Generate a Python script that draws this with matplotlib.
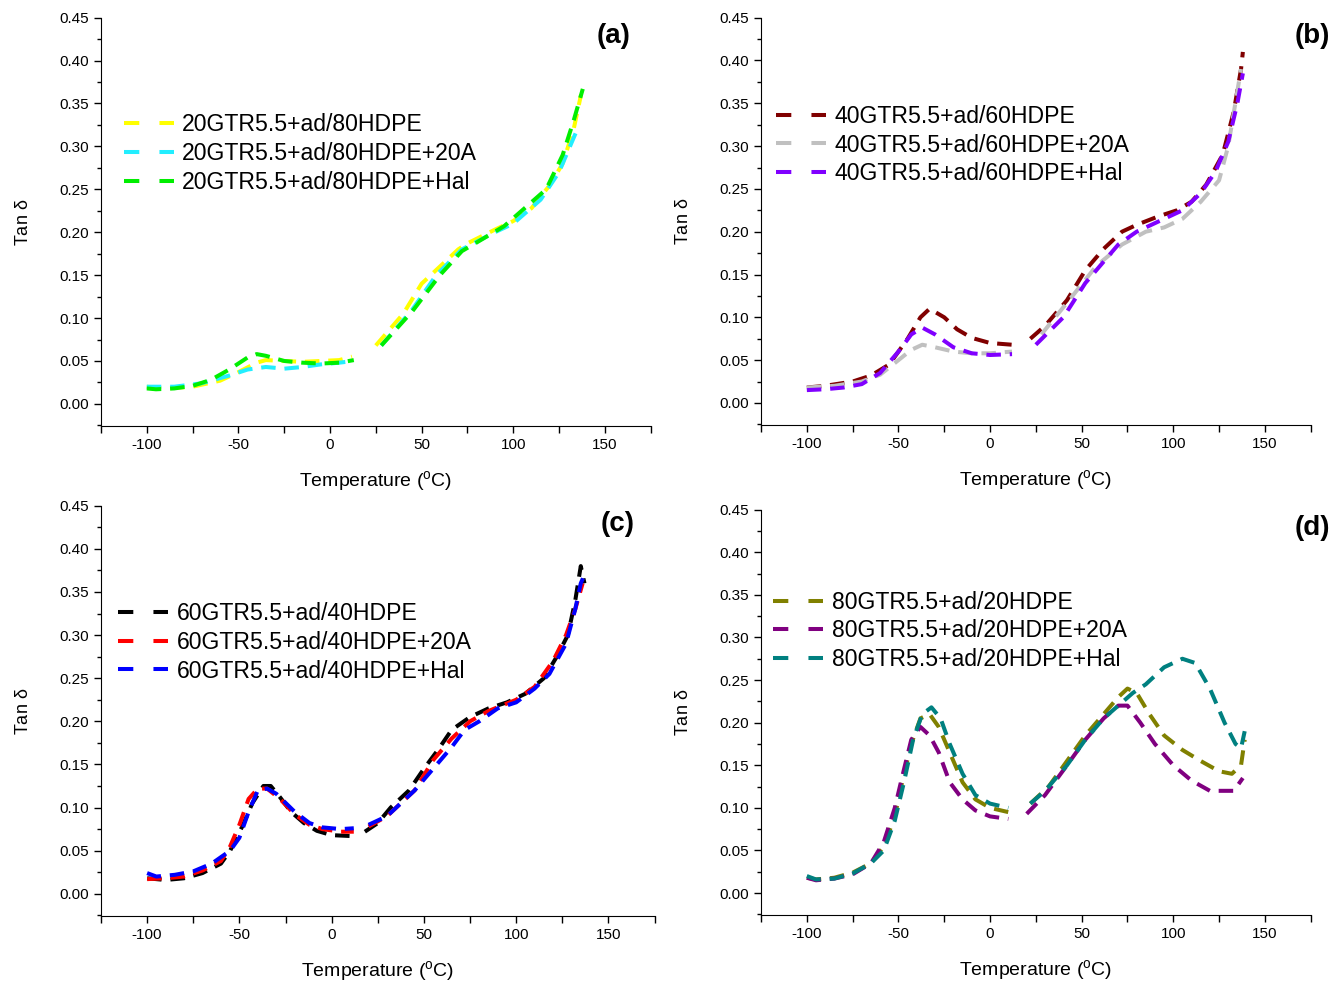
import numpy as np
import matplotlib.pyplot as plt
from matplotlib.ticker import MultipleLocator
from matplotlib.lines import Line2D

plt.rcParams['font.family'] = ['Liberation Sans', 'DejaVu Sans']
plt.rcParams['mathtext.fontset'] = 'custom'
plt.rcParams['mathtext.rm'] = 'Liberation Sans'
plt.rcParams['mathtext.it'] = 'Liberation Sans:italic'
plt.rcParams['axes.unicode_minus'] = False

nan = np.nan

# ---- panel (a) ----
a_T1 = [-100, -90, -75, -60, -50, -40, -35, -25, -15, -5, 5, 12, 16, 25, 40, 50, 60, 70, 75, 90, 100, 110, 120, 127, 133, 137]
a_v1 = [0.020, 0.018, 0.020, 0.027, 0.037, 0.048, 0.051, 0.050, 0.049, 0.050, 0.051, 0.055, nan, 0.068, 0.105, 0.140, 0.160, 0.180, 0.187, 0.203, 0.213, 0.228, 0.255, 0.280, 0.320, 0.360]
a_T2 = [-100, -85, -70, -55, -45, -35, -25, -15, -5, 5, 13, 18, 28, 45, 58, 72, 90, 100, 115, 125, 135]
a_v2 = [0.020, 0.020, 0.024, 0.033, 0.040, 0.043, 0.041, 0.043, 0.046, 0.048, 0.050, nan, 0.068, 0.110, 0.150, 0.180, 0.200, 0.210, 0.238, 0.270, 0.320]
a_T3 = [-100, -95, -85, -75, -65, -55, -45, -40, -35, -25, -15, -5, 5, 13, 18, 28, 45, 60, 72, 80, 95, 110, 118, 127, 133, 138]
a_v3 = [0.018, 0.017, 0.018, 0.021, 0.028, 0.040, 0.054, 0.058, 0.056, 0.050, 0.048, 0.047, 0.048, 0.051, nan, 0.068, 0.108, 0.150, 0.178, 0.188, 0.207, 0.235, 0.250, 0.290, 0.330, 0.367]

# ---- panel (b) ----
b_T1 = [-100, -90, -75, -65, -55, -45, -38, -33, -25, -18, -10, 0, 12, 17, 22, 30, 42, 52, 62, 72, 80, 92, 102, 110, 118, 127, 133, 137, 138]
b_v1 = [0.018, 0.020, 0.025, 0.032, 0.045, 0.075, 0.100, 0.110, 0.100, 0.086, 0.076, 0.070, 0.068, nan, 0.075, 0.090, 0.120, 0.155, 0.180, 0.200, 0.208, 0.218, 0.225, 0.235, 0.255, 0.290, 0.340, 0.390, 0.410]
b_T2 = [-100, -85, -70, -60, -50, -43, -37, -30, -20, -10, 0, 12, 18, 28, 45, 58, 72, 85, 95, 105, 115, 125, 130, 137]
b_v2 = [0.018, 0.020, 0.025, 0.033, 0.050, 0.062, 0.068, 0.065, 0.060, 0.058, 0.058, 0.060, nan, 0.080, 0.125, 0.160, 0.185, 0.200, 0.205, 0.215, 0.235, 0.260, 0.300, 0.390]
b_T3 = [-100, -90, -80, -70, -60, -50, -43, -37, -30, -20, -10, 0, 12, 18, 25, 40, 52, 62, 70, 80, 95, 105, 115, 123, 130, 135, 138]
b_v3 = [0.015, 0.016, 0.018, 0.022, 0.035, 0.060, 0.080, 0.088, 0.080, 0.065, 0.058, 0.056, 0.057, nan, 0.068, 0.100, 0.140, 0.165, 0.185, 0.200, 0.215, 0.225, 0.245, 0.270, 0.305, 0.350, 0.385]

# ---- panel (c) ----
c_T1 = [-100, -90, -80, -70, -60, -55, -48, -43, -37, -33, -28, -22, -15, -8, 0, 10, 14, 18, 25, 32, 42, 50, 58, 65, 75, 85, 95, 105, 115, 122, 128, 132, 135, 137]
c_v1 = [0.018, 0.016, 0.018, 0.024, 0.035, 0.050, 0.080, 0.105, 0.125, 0.125, 0.112, 0.095, 0.082, 0.073, 0.068, 0.067, nan, 0.072, 0.082, 0.100, 0.120, 0.145, 0.168, 0.190, 0.205, 0.215, 0.222, 0.232, 0.250, 0.275, 0.300, 0.340, 0.380, 0.360]
c_T2 = [-100, -90, -80, -70, -60, -55, -50, -45, -40, -35, -28, -20, -12, -5, 5, 12, 16, 20, 30, 45, 55, 65, 75, 85, 100, 110, 120, 127, 132, 136]
c_v2 = [0.017, 0.018, 0.020, 0.027, 0.038, 0.055, 0.080, 0.110, 0.122, 0.122, 0.110, 0.092, 0.080, 0.075, 0.072, 0.072, nan, 0.078, 0.090, 0.120, 0.155, 0.180, 0.200, 0.212, 0.225, 0.240, 0.270, 0.300, 0.330, 0.360]
c_T3 = [-100, -95, -85, -75, -65, -55, -50, -45, -40, -35, -30, -20, -12, -5, 5, 12, 16, 20, 30, 45, 55, 65, 72, 80, 90, 100, 110, 118, 127, 132, 135, 137]
c_v3 = [0.024, 0.020, 0.022, 0.026, 0.035, 0.050, 0.065, 0.095, 0.120, 0.122, 0.116, 0.095, 0.082, 0.077, 0.075, 0.076, nan, 0.080, 0.090, 0.120, 0.145, 0.170, 0.190, 0.200, 0.215, 0.222, 0.238, 0.255, 0.290, 0.330, 0.360, 0.370]

# ---- panel (d) ----
d_T1 = [-100, -95, -85, -75, -65, -58, -52, -48, -43, -38, -33, -28, -22, -15, -8, 0, 10, 16, 22, 32, 42, 52, 62, 70, 75, 80, 87, 95, 105, 115, 125, 132, 137, 139]
d_v1 = [0.018, 0.016, 0.018, 0.024, 0.035, 0.055, 0.090, 0.130, 0.175, 0.205, 0.210, 0.195, 0.165, 0.130, 0.110, 0.100, 0.095, nan, 0.105, 0.125, 0.155, 0.185, 0.210, 0.230, 0.240, 0.235, 0.210, 0.185, 0.168, 0.155, 0.143, 0.140, 0.150, 0.180]
d_T2 = [-100, -95, -85, -75, -65, -58, -52, -47, -43, -38, -33, -28, -22, -15, -8, 0, 10, 15, 20, 30, 42, 52, 62, 70, 75, 82, 90, 100, 110, 120, 128, 133, 138]
d_v2 = [0.018, 0.015, 0.017, 0.022, 0.035, 0.060, 0.100, 0.145, 0.180, 0.195, 0.185, 0.165, 0.130, 0.110, 0.097, 0.090, 0.087, nan, 0.093, 0.115, 0.150, 0.180, 0.205, 0.220, 0.220, 0.200, 0.175, 0.150, 0.132, 0.120, 0.120, 0.120, 0.135]
d_T3 = [-100, -95, -85, -75, -65, -58, -52, -47, -42, -37, -32, -27, -22, -15, -8, 0, 10, 16, 22, 30, 42, 52, 62, 70, 78, 85, 95, 105, 112, 120, 128, 134, 137, 139]
d_v3 = [0.020, 0.016, 0.017, 0.023, 0.035, 0.050, 0.085, 0.130, 0.180, 0.210, 0.218, 0.205, 0.175, 0.140, 0.115, 0.105, 0.100, nan, 0.105, 0.120, 0.150, 0.180, 0.205, 0.220, 0.235, 0.245, 0.265, 0.275, 0.270, 0.240, 0.200, 0.175, 0.170, 0.190]

panels = [
    ('(a)', [(a_T1, a_v1, '#FFFF00', '20GTR5.5+ad/80HDPE'),
             (a_T2, a_v2, '#22EEFF', '20GTR5.5+ad/80HDPE+20A'),
             (a_T3, a_v3, '#00EE00', '20GTR5.5+ad/80HDPE+Hal')]),
    ('(b)', [(b_T1, b_v1, '#800000', '40GTR5.5+ad/60HDPE'),
             (b_T2, b_v2, '#C0C0C0', '40GTR5.5+ad/60HDPE+20A'),
             (b_T3, b_v3, '#8000FF', '40GTR5.5+ad/60HDPE+Hal')]),
    ('(c)', [(c_T1, c_v1, '#000000', '60GTR5.5+ad/40HDPE'),
             (c_T2, c_v2, '#FF0000', '60GTR5.5+ad/40HDPE+20A'),
             (c_T3, c_v3, '#0000FF', '60GTR5.5+ad/40HDPE+Hal')]),
    ('(d)', [(d_T1, d_v1, '#808000', '80GTR5.5+ad/20HDPE'),
             (d_T2, d_v2, '#800080', '80GTR5.5+ad/20HDPE+20A'),
             (d_T3, d_v3, '#008080', '80GTR5.5+ad/20HDPE+Hal')]),
]

fig = plt.figure(figsize=(13.34, 9.82), dpi=100)
rects = [[0.0757, 0.566, 0.412, 0.416],
         [0.5705, 0.567, 0.412, 0.415],
         [0.0757, 0.067, 0.415, 0.418],
         [0.5705, 0.068, 0.412, 0.413]]
tag_x = [0.964, 1.036, 0.964, 1.036]
leg_xy = [(0.025, 0.789), (0.011, 0.809), (0.0145, 0.788), (0.0055, 0.823)]

lw = 2.9
for rect, tx, lxy, (tag, series) in zip(rects, tag_x, leg_xy, panels):
    ax = fig.add_axes(rect)
    handles = []
    for T, v, col, lab in series:
        ax.plot(T, v, color=col, lw=lw, ls=(0, (3.6, 2.2)))
        handles.append(Line2D([], [], color=col, lw=lw, ls=(0, (3.8, 5.0)), label=lab))
    ax.set_xlim(-125, 175)
    ax.set_ylim(-0.026, 0.45)
    ax.xaxis.set_minor_locator(MultipleLocator(25))
    ax.yaxis.set_minor_locator(MultipleLocator(0.025))
    ax.set_xticks([-100, -50, 0, 50, 100, 150])
    yt = np.arange(0, 0.451, 0.05)
    ax.set_yticks(yt)
    ax.set_yticklabels(['%.2f' % t for t in yt])
    ax.spines['top'].set_visible(False)
    ax.spines['right'].set_visible(False)
    ax.spines['left'].set_bounds(-0.026, 0.45)
    ax.tick_params(which='major', direction='out', length=5, width=1, labelsize=11)
    ax.tick_params(which='minor', direction='out', length=3, width=1)
    ax.tick_params(axis='x', which='minor', length=5)
    ax.set_xlabel(r'Temperature ($\mathregular{^{o}}$C)', fontsize=14, labelpad=12)
    ax.set_ylabel(r'Tan $\mathregular{\delta}$', fontsize=13, labelpad=20)
    ax.text(tx, 0.955, tag, transform=ax.transAxes, ha='right', va='center',
            fontsize=20, fontweight='bold')
    ax.legend(handles=handles, loc='upper left', bbox_to_anchor=lxy,
              frameon=False, fontsize=16.6, handlelength=2.15, handletextpad=0.38,
              labelspacing=0.25, borderaxespad=0)

plt.savefig('out.png', dpi=100)
